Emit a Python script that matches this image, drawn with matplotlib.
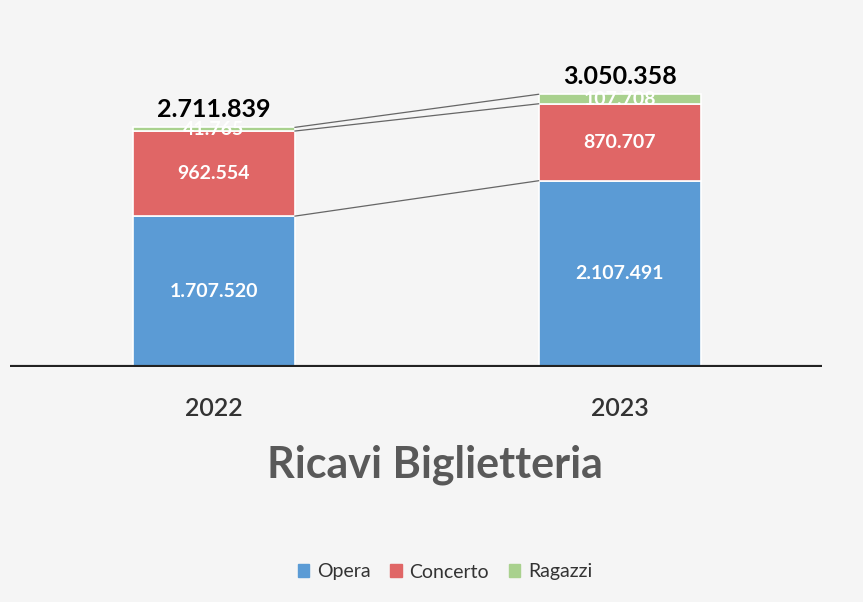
import matplotlib.pyplot as plt
from matplotlib.patches import Patch

plt.rcParams['font.family'] = ['Lato', 'DejaVu Sans']

years = ['2022', '2023']
series = ['Opera', 'Concerto', 'Ragazzi']
opera = [1707520, 2107491]
concerto = [962554, 870707]
ragazzi = [41765, 107708]
totals = ['2.711.839', '3.050.358']
colors = ['#5b9bd5', '#e06666', '#a9d18e']


def fmt(v):
    return f'{v:,}'.replace(',', '.')


fig = plt.figure(figsize=(8.63, 6.02), dpi=100, facecolor='#f5f5f5')
ax = fig.add_axes([10 / 863, 235 / 602, 812 / 863, 327 / 602])
ax.patch.set_alpha(0)

x = [0, 1]
w = 0.40
bottom = [0, 0]
tops = []
for vals, col in zip([opera, concerto, ragazzi], colors):
    ax.bar(x, vals, w, bottom=bottom, color=col, edgecolor='white', linewidth=1.2)
    for i, v in enumerate(vals):
        ax.text(x[i], bottom[i] + v / 2, fmt(v), ha='center', va='center',
                color='white', fontsize=14, fontweight='bold')
    bottom = [b + v for b, v in zip(bottom, vals)]
    tops.append(list(bottom))

# series lines between the bars
for t in tops:
    ax.plot([x[0] + w / 2, x[1] - w / 2], [t[0], t[1]], color='#666666', lw=0.9)

for i, t in enumerate(totals):
    ax.text(x[i], bottom[i] + 70000, t, ha='center', va='bottom',
            color='black', fontsize=18, fontweight='bold')

ax.set_xlim(-0.502, 1.498)
ax.set_ylim(0, 3.7e6)
ax.axhline(0, color='#222222', lw=3)
for s in ax.spines.values():
    s.set_visible(False)
ax.set_yticks([])
ax.set_xticks([])

for i, y in enumerate(years):
    fig.text((214 + 406 * i) / 863, 1 - 408 / 602, y, ha='center', va='center',
             fontsize=18, fontweight='semibold', color='#333333')

fig.text(435 / 863, 1 - 465 / 602, 'Ricavi Biglietteria', ha='center', va='center',
         fontsize=31, fontweight='bold', color='#595959')

handles = [Patch(color=c, label=s) for c, s in zip(colors, series)]
fig.legend(handles=handles, loc='center', bbox_to_anchor=(445 / 863, 1 - 572 / 602),
           ncol=3, frameon=False, fontsize=14, handlelength=0.6, handleheight=0.6,
           columnspacing=1.0, handletextpad=0.4, labelcolor='#333333')

fig.savefig('out.png', dpi=100, facecolor=fig.get_facecolor())
